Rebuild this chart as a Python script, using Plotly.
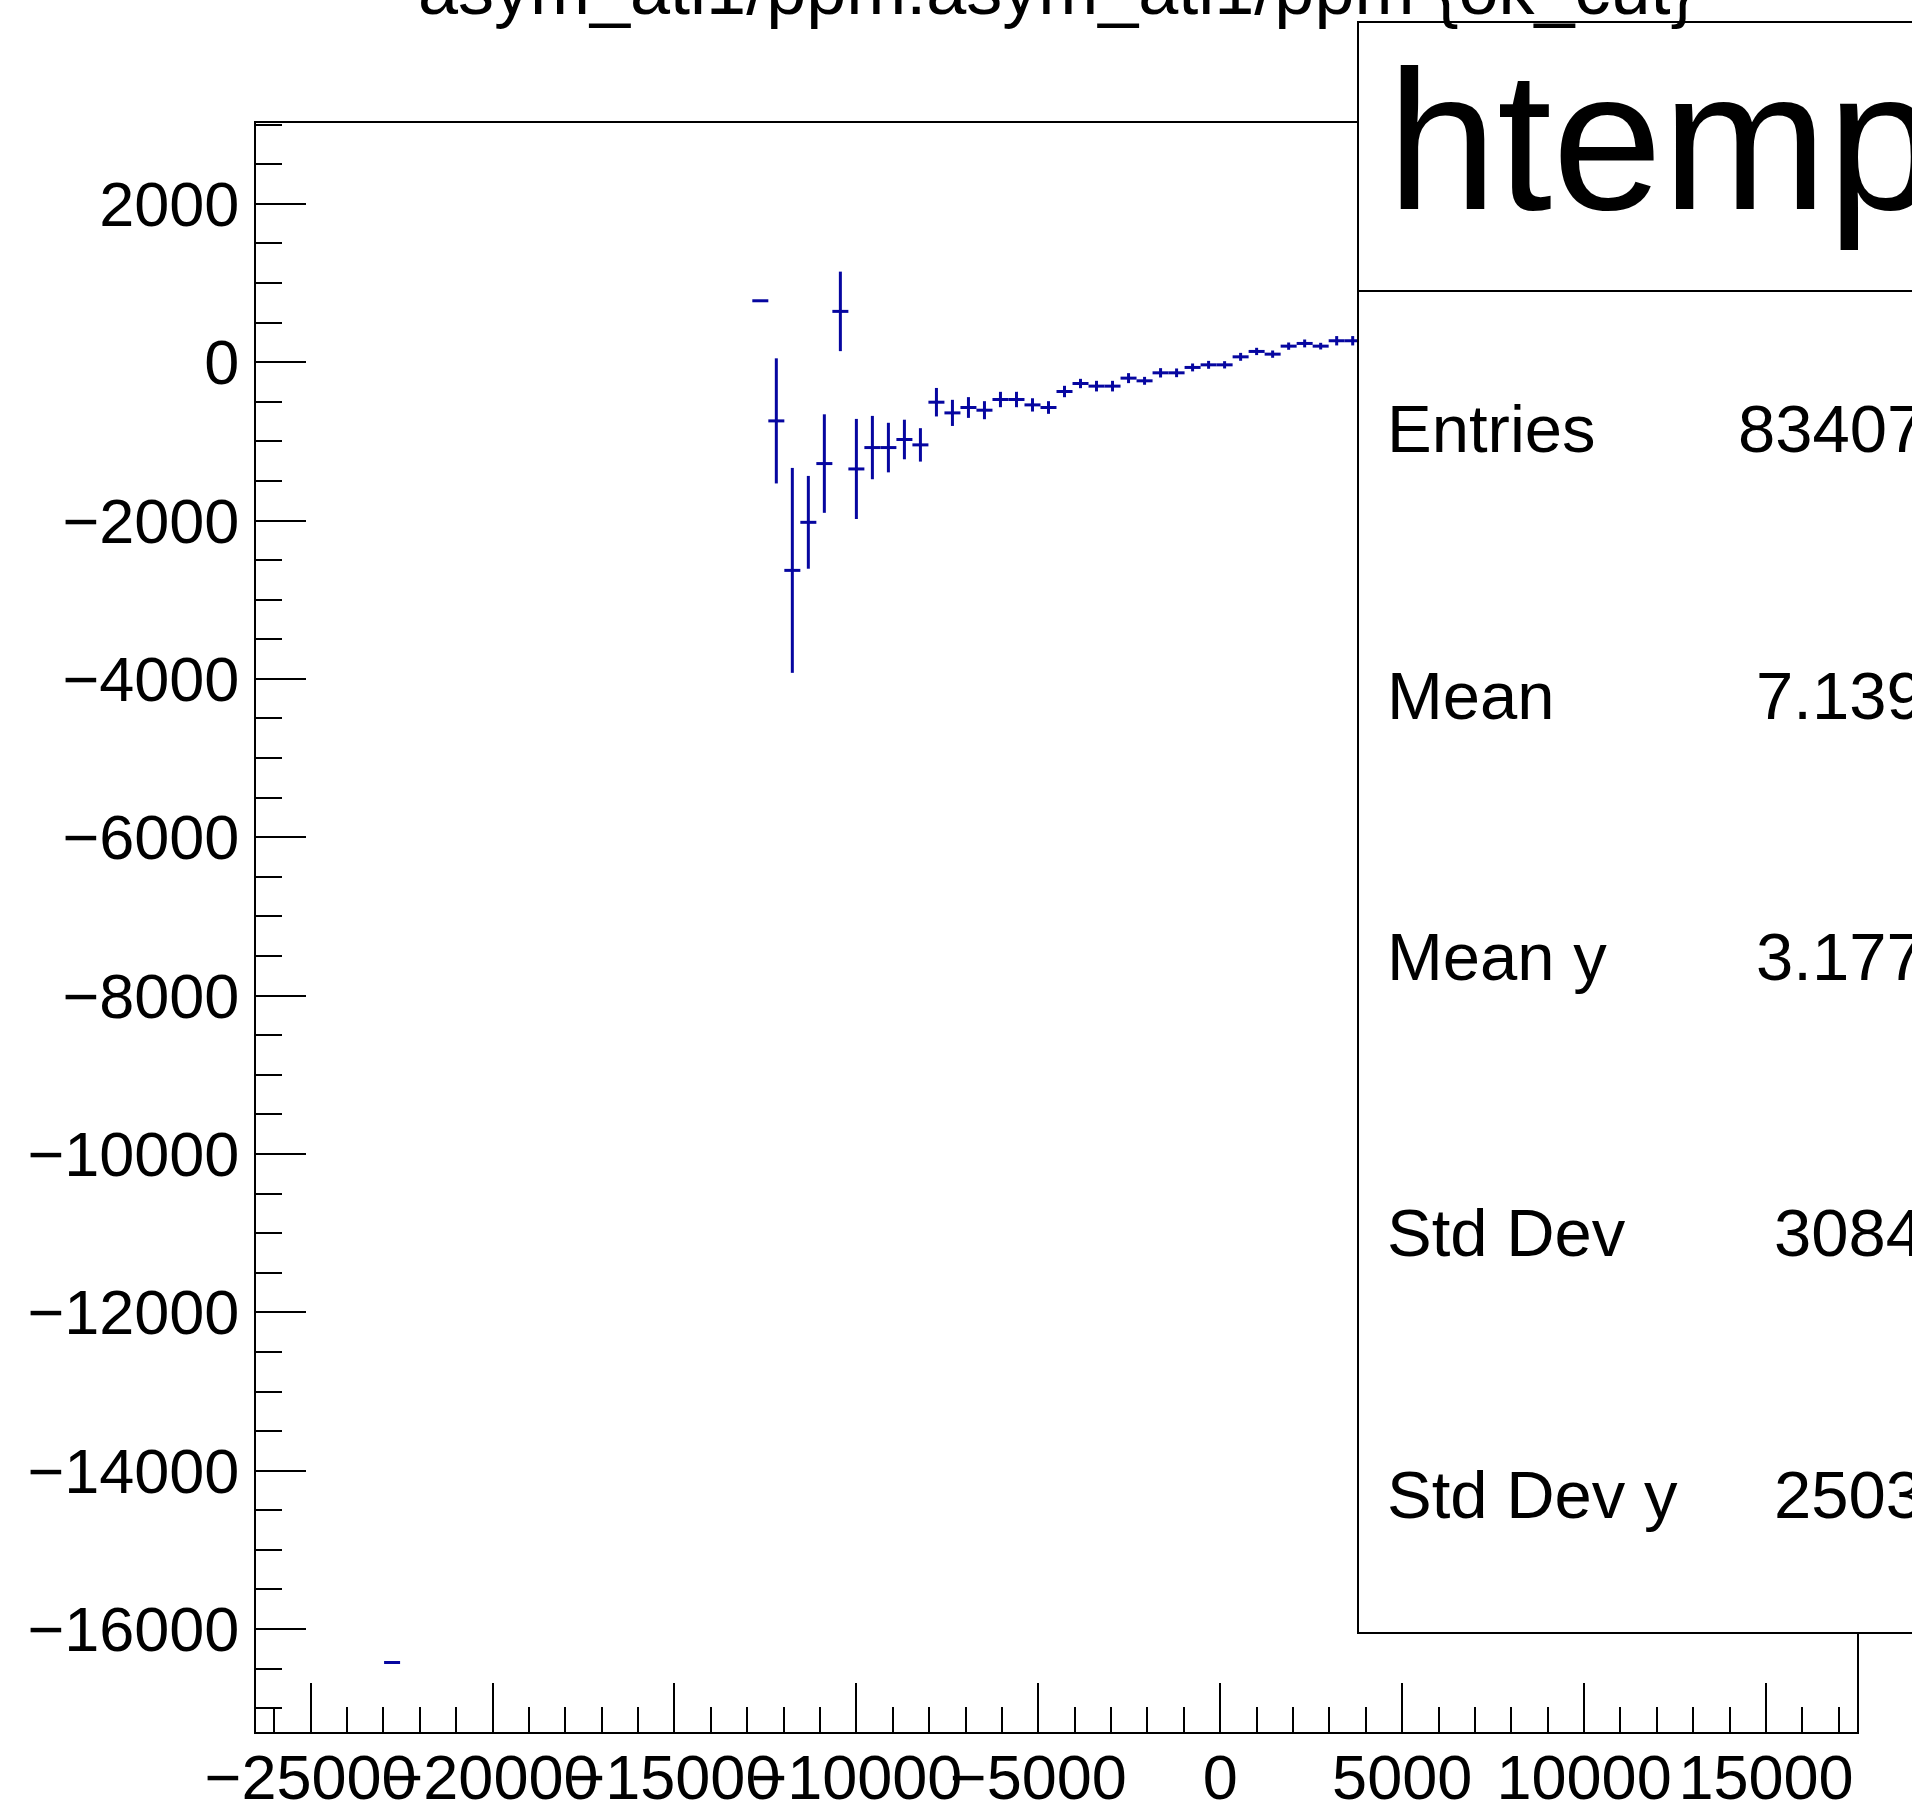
import plotly.graph_objects as go

# ---------------- data (TProfile bins) ----------------
bin_centers = [-22760,
               -12640, -12200, -11760, -11320, -10880, -10440, -10000, -9560,
               -9120, -8680, -8240, -7800, -7360, -6920, -6480, -6040,
               -5600, -5160, -4720, -4280, -3840, -3400, -2960, -2520,
               -2080, -1640, -1200, -760, -320, 120, 560, 1000,
               1440, 1880, 2320, 2760, 3200, 3640]
profile_mean = [-16422,
                775, -742, -2630, -2023, -1281, 641, -1349, -1079,
                -1079, -977, -1045, -506, -641, -573, -607, -472,
                -472, -540, -573, -371, -270, -303, -303, -202,
                -236, -135, -135, -67, -34, -34, 67, 135,
                101, 202, 236, 202, 270, 270]
profile_err = [0,
               0, 790, 1294, 586, 622, 502, 632, 400,
               313, 250, 211, 180, 165, 131, 114, 97,
               97, 84, 80, 72, 59, 67, 67, 63,
               50, 59, 55, 50, 50, 46, 50, 46,
               46, 46, 50, 42, 59, 59]
bin_half_width = 220

title_text = "asym_atl1/ppm:asym_atl1/ppm {ok_cut}"
stats_title = "htemp"
stat_names = ["Entries", "Mean", "Mean y", "Std Dev", "Std Dev y"]
stat_values = ["83407", "7.139", "3.177", "3084", "2503"]

x_range = [-26500, 17500]
y_range = [-17300, 3020]

# ---------------- layout geometry (pixels) ----------------
W_PX, H_PX = 1912, 1808
L, R, T, B = 256, 1857, 123, 1732
PW, PH = R - L, B - T


def px_x(px):
    return (px - L) / PW


def px_y(py):
    return (B - py) / PH


LINE_COLOR = "#0606a0"
FONT = "Liberation Sans, Arial, Helvetica, sans-serif"

fig = go.Figure()
fig.add_trace(go.Scatter(
    x=bin_centers, y=profile_mean,
    mode="markers",
    marker=dict(size=0, color=LINE_COLOR, opacity=0),
    error_x=dict(type="constant", value=bin_half_width, color=LINE_COLOR,
                 thickness=3, width=0),
    error_y=dict(type="data", array=profile_err, color=LINE_COLOR,
                 thickness=3, width=0),
    showlegend=False, hoverinfo="x+y",
))

axis_common = dict(
    showgrid=False, zeroline=False,
    showline=True, linecolor="black", linewidth=2, mirror=True,
    ticks="inside", tickcolor="black", tickwidth=1.5,
    tickformat="d", exponentformat="none",
    tickfont=dict(family=FONT, size=63, color="black"),
)

fig.update_xaxes(range=x_range, tick0=0, dtick=5000, ticklen=49,
                 tickangle=0, ticklabelstandoff=-11,
                 minor=dict(ticks="inside", ticklen=25, dtick=1000,
                            tickcolor="black", tickwidth=1.5),
                 **axis_common)
fig.update_yaxes(range=y_range, tick0=0, dtick=2000, ticklen=50,
                 ticklabelstandoff=2,
                 minor=dict(ticks="inside", ticklen=26, dtick=500,
                            tickcolor="black", tickwidth=1.5),
                 **axis_common)

# stats box
box_left, box_right, box_top, box_bottom, box_div = 1358, 1935, 22, 1633, 291
fig.add_shape(type="rect", xref="paper", yref="paper",
              x0=px_x(box_left), x1=px_x(box_right),
              y0=px_y(box_bottom), y1=px_y(box_top),
              fillcolor="white", line=dict(color="black", width=2),
              layer="above")
fig.add_shape(type="line", xref="paper", yref="paper",
              x0=px_x(box_left), x1=px_x(box_right),
              y0=px_y(box_div), y1=px_y(box_div),
              line=dict(color="black", width=2), layer="above")

annotations = []
# title (baseline near y=14 px, mostly cut off by canvas top)
annotations.append(dict(text=title_text, xref="paper", yref="paper",
                        x=0.5, y=px_y(14 - 0.3465 * 72),
                        xanchor="center", yanchor="middle", showarrow=False,
                        font=dict(family=FONT, size=72, color="black")))
# stats title
annotations.append(dict(text=stats_title, xref="paper", yref="paper",
                        x=px_x(1385), y=px_y(209 - 0.3465 * 198),
                        xanchor="left", yanchor="middle", showarrow=False,
                        font=dict(family=FONT, size=198, color="black")))
STAT_FS = 67
row_baselines = [452, 719, 980, 1256, 1518]
value_x = [1736, 1754, 1754, 1772, 1772]
for name, val, yb, vx in zip(stat_names, stat_values, row_baselines, value_x):
    annotations.append(dict(text=name, xref="paper", yref="paper",
                            x=px_x(1385), y=px_y(yb - 0.3465 * STAT_FS),
                            xanchor="left", yanchor="middle", showarrow=False,
                            font=dict(family=FONT, size=STAT_FS, color="black")))
    annotations.append(dict(text=val, xref="paper", yref="paper",
                            x=px_x(vx), y=px_y(yb - 0.3465 * STAT_FS),
                            xanchor="left", yanchor="middle", showarrow=False,
                            font=dict(family=FONT, size=STAT_FS, color="black")))

fig.update_layout(
    width=W_PX, height=H_PX,
    margin=dict(l=L, r=W_PX - R, t=T, b=H_PX - B, autoexpand=False),
    paper_bgcolor="white", plot_bgcolor="white",
    annotations=annotations,
    showlegend=False,
)

fig.write_html("out.html", config={"displayModeBar": False},
               post_script="document.body.style.margin='0';")
